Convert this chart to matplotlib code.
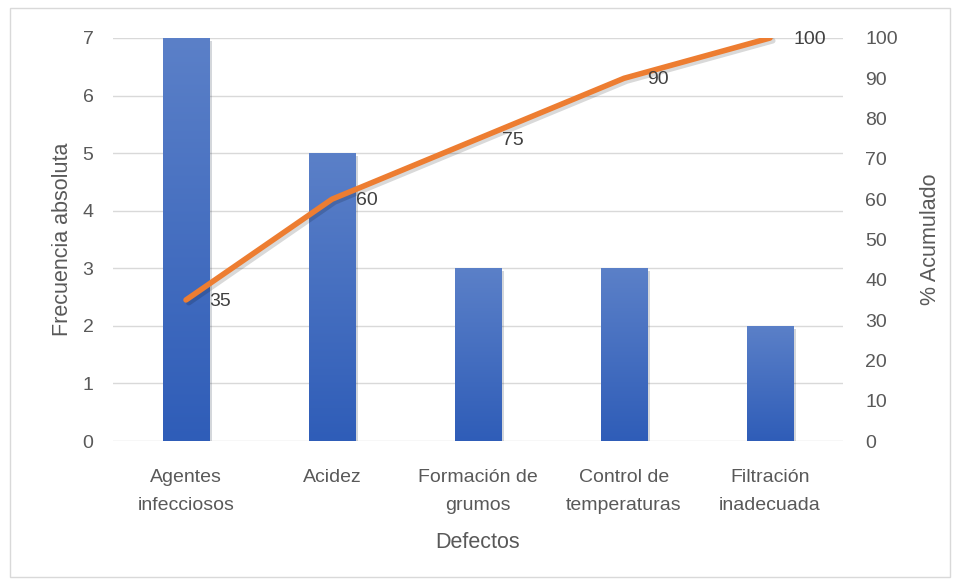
import numpy as np
import matplotlib
matplotlib.use('Agg')
import matplotlib.pyplot as plt
import matplotlib.patches as mpatches
import matplotlib.patheffects as pe
from matplotlib.colors import LinearSegmentedColormap

plt.rcParams['font.family'] = ['Liberation Sans', 'DejaVu Sans']

categorias = ['Agentes\ninfecciosos', 'Acidez', 'Formación de\ngrumos',
              'Control de\ntemperaturas', 'Filtración\ninadecuada']
frecuencia = [7, 5, 3, 3, 2]
acumulado = [35, 60, 75, 90, 100]

txt = '#595959'
grid = '#d9d9d9'
fs = 14
fs_lab = 15.5

fig = plt.figure(figsize=(9.61, 5.8), dpi=100)
fig.patches.append(mpatches.Rectangle((10 / 961, 3 / 580), 940 / 961, 569 / 580,
                                      transform=fig.transFigure, fill=False,
                                      edgecolor=grid, linewidth=1))
ax = fig.add_axes([113 / 961, 139 / 580, 730 / 961, 403 / 580])
x = np.arange(len(categorias))

bars = ax.bar(x, frecuencia, width=0.32, color='#4472c4', zorder=2,
              path_effects=[pe.SimplePatchShadow(offset=(2, -2), alpha=0.18), pe.Normal()])
cmap = LinearSegmentedColormap.from_list('g', ['#2f5db8', '#5b80c8'])
grad = np.linspace(0, 1, 256).reshape(-1, 1)
for b in bars:
    im = ax.imshow(grad, cmap=cmap, origin='lower', aspect='auto', zorder=2.1,
                   extent=(b.get_x(), b.get_x() + b.get_width(), 0, b.get_height()))
    im.set_clip_path(b)

ax.set_xlim(-0.5, len(categorias) - 0.5)
ax.set_ylim(0, 7)
ax.set_yticks(range(0, 8))
ax.yaxis.grid(True, color=grid, linewidth=1, zorder=0)
ax.set_axisbelow(True)
for s in ax.spines.values():
    s.set_visible(False)
ax.tick_params(axis='y', length=0, labelsize=fs, colors=txt, pad=14)
ax.tick_params(axis='x', length=0, labelsize=fs, colors=txt, pad=20)
ax.set_xticks(x)
ax.set_xticklabels(categorias, linespacing=1.85)
ax.set_xlabel('Defectos', fontsize=fs_lab, color=txt, labelpad=13)
ax.set_ylabel('Frecuencia absoluta', fontsize=fs_lab, color=txt, labelpad=7)

ax2 = ax.twinx()
ax2.plot(x, acumulado, color='#ed7d31', linewidth=4, solid_capstyle='round', zorder=3,
         path_effects=[pe.SimpleLineShadow(offset=(2, -2), alpha=0.15), pe.Normal()])
for xi, v in zip(x, acumulado):
    ax2.annotate(str(v), (xi, v), xytext=(17, -1), textcoords='offset points',
                 ha='left', va='center', fontsize=fs, color='#404040')
ax2.set_ylim(0, 100)
ax2.set_yticks(range(0, 101, 10))
for s in ax2.spines.values():
    s.set_visible(False)
ax2.tick_params(length=0, labelsize=fs, colors=txt, pad=16)
ax2.set_ylabel('% Acumulado', fontsize=fs_lab, color=txt, labelpad=16)

fig.savefig('out.png', dpi=100)
